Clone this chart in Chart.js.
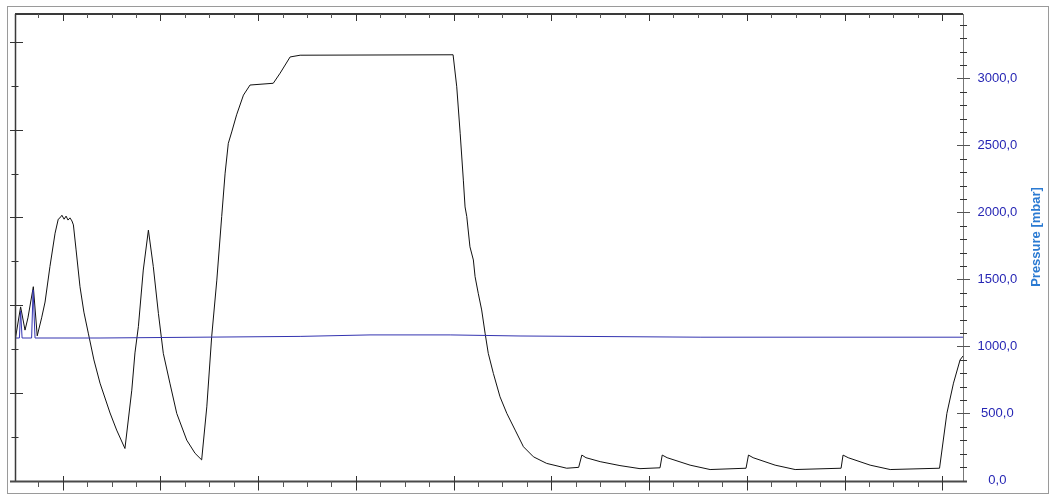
<!DOCTYPE html>
<html>
<head>
<meta charset="utf-8">
<script src="https://cdn.jsdelivr.net/npm/chart.js@4/dist/chart.umd.min.js"></script>
<style>
  html, body { margin: 0; padding: 0; background: #ffffff; }
  #wrap { width: 1057px; height: 499px; }
</style>
</head>
<body>
<div id="wrap"><canvas id="c" width="1057" height="499"></canvas></div>
<script>
// ---- Data (time in minor-tick units, black on left unlabeled axis, pressure in mbar) ----
const blackTime = [0.07,0.28,0.46,0.58,0.80,0.96,1.14,1.28,1.48,1.69,1.82,1.89,1.97,2.06,2.14,2.22,2.30,2.38,2.44,2.55,2.71,2.87,3.05,3.28,3.53,3.94,4.21,4.55,4.83,4.96,5.10,5.30,5.51,5.71,5.92,6.12,6.39,6.67,7.08,7.42,7.69,7.90,8.10,8.31,8.51,8.65,8.78,8.92,9.12,9.40,9.67,10.62,10.90,11.31,11.72,17.98,18.13,18.27,18.40,18.47,18.54,18.67,18.81,18.88,19.01,19.15,19.29,19.42,19.63,19.90,20.18,20.52,20.86,21.27,21.81,22.63,23.12,23.25,23.42,24.00,24.81,25.63,26.45,26.54,26.74,27.68,28.50,29.97,30.07,30.26,31.16,31.98,33.86,33.94,34.15,35.05,35.87,37.89,38.19,38.46,38.73,38.85];
const blackValue = [3.25,3.96,3.43,3.71,4.42,3.30,3.71,4.07,4.88,5.64,5.96,5.99,6.05,5.96,6.03,5.94,5.99,5.92,5.83,5.26,4.42,3.84,3.36,2.75,2.22,1.54,1.15,0.73,2.06,2.91,3.51,4.80,5.71,4.88,3.81,2.90,2.22,1.53,0.92,0.62,0.47,1.68,3.28,4.57,6.02,7.01,7.69,7.95,8.34,8.79,9.02,9.06,9.29,9.66,9.70,9.71,8.98,7.92,6.85,6.24,6.02,5.33,5.03,4.65,4.27,3.89,3.36,2.90,2.44,1.91,1.53,1.15,0.77,0.54,0.39,0.28,0.30,0.58,0.52,0.43,0.34,0.27,0.29,0.58,0.52,0.35,0.25,0.28,0.58,0.52,0.35,0.25,0.28,0.58,0.52,0.35,0.25,0.28,1.53,2.22,2.75,2.84];
const pressureTime = [0.07,0.23,0.28,0.34,0.73,0.79,0.87,3.53,11.72,14.58,17.86,20.72,28.09,38.85];
const pressureValue = [1063,1063,1265,1063,1063,1422,1063,1063,1075,1086,1086,1078,1069,1069];
const xTickValues = Array.from({length: 38}, (_, i) => i + 1);   // minor ticks, major when value % 4 == 2
const leftTickValues = [1,2,3,4,5,6,7,8,9,10];
const pressureLabelStep = 500;
const axisTitle = 'Pressure [mbar]';

const blackData = blackTime.map((t, i) => ({x: t, y: blackValue[i]}));
const pressureData = pressureTime.map((t, i) => ({x: t, y: pressureValue[i]}));

const FONT = 'Arial, "Liberation Sans", sans-serif';

const decor = {
  id: 'decor',
  beforeDraw(chart) {
    const ctx = chart.ctx;
    ctx.save();
    ctx.fillStyle = '#ffffff';
    ctx.fillRect(0, 0, chart.width, chart.height);
    ctx.restore();
  },
  afterDatasetsDraw(chart) {
    const {ctx, chartArea: a, scales} = chart;
    const L = Math.round(a.left), R = Math.round(a.right), T = Math.round(a.top), B = Math.round(a.bottom);
    ctx.save();
    // outer frame
    ctx.strokeStyle = '#9a9a9a';
    ctx.lineWidth = 1;
    ctx.strokeRect(7.5, 6.5, 1041, 487);

    const line = (x1, y1, x2, y2, w, c) => {
      ctx.beginPath(); ctx.lineWidth = w; ctx.strokeStyle = c;
      ctx.moveTo(x1, y1); ctx.lineTo(x2, y2); ctx.stroke();
    };
    // axis lines
    line(L, T, R, T, 2, '#3a3a3a');
    line(L + 0.5, T, L + 0.5, B + 1, 1.5, '#3a3a3a');
    line(R + 0.5, T, R + 0.5, B + 1, 1, '#777777');
    line(L - 5, B + 0.5, R + 4, B + 0.5, 2, '#4a4a4a');

    // x ticks (bottom & top)
    const xs = scales.x;
    xs.ticks.forEach(t => {
      const px = Math.round(xs.getPixelForValue(t.value)) + 0.5;
      const major = (t.value % 4) === 2;
      if (major) {
        line(px, B - 5, px, B + 9.5, 1, '#333333');
        line(px, T, px, T + 7, 1, '#333333');
      } else {
        line(px, B, px, B + 6, 1, '#555555');
        line(px, T, px, T + 4, 1, '#555555');
      }
    });
    // left ticks
    const yl = scales.yL;
    yl.ticks.forEach(t => {
      const py = Math.round(yl.getPixelForValue(t.value)) + 0.5;
      if (t.value % 2 === 0) line(L - 5, py, L + 8, py, 1, '#333333');
      else line(L - 3.5, py, L + 3.5, py, 1, '#333333');
    });
    // right ticks
    const yr = scales.yR;
    yr.ticks.forEach(t => {
      if (t.value <= 0) return;
      const py = Math.round(yr.getPixelForValue(t.value)) + 0.5;
      if (t.value % pressureLabelStep === 0) line(R - 6, py, R + 7, py, 1, '#555555');
      else line(R - 3, py, R + 4, py, 1, '#333333');
    });
    // right axis title (reads bottom to top)
    ctx.translate(1036, 237);
    ctx.rotate(-Math.PI / 2);
    ctx.font = 'bold 13px ' + FONT;
    ctx.fillStyle = '#2a7ad2';
    ctx.textAlign = 'center';
    ctx.textBaseline = 'middle';
    ctx.fillText(axisTitle, 0, 0);
    ctx.restore();
  }
};

const noPad = s => { s.paddingTop = 0; s.paddingBottom = 0; s.paddingLeft = 0; s.paddingRight = 0; };

new Chart(document.getElementById('c'), {
  type: 'line',
  data: {
    datasets: [
      {
        label: 'Pressure',
        data: pressureData,
        yAxisID: 'yR',
        borderColor: '#3434b0',
        borderWidth: 1,
        pointRadius: 0,
        tension: 0,
        fill: false
      },
      {
        label: 'Signal',
        data: blackData,
        yAxisID: 'yL',
        borderColor: '#111111',
        borderWidth: 1,
        pointRadius: 0,
        tension: 0,
        fill: false
      }
    ]
  },
  plugins: [decor],
  options: {
    responsive: false,
    animation: false,
    events: [],
    layout: { padding: { top: 14, left: 0, right: 0, bottom: 0 } },
    plugins: { legend: { display: false }, tooltip: { enabled: false } },
    scales: {
      x: {
        type: 'linear',
        position: 'bottom',
        min: 0.05,
        max: 38.85,
        grid: { display: false, drawTicks: false },
        border: { display: false },
        ticks: { display: false },
        afterBuildTicks: s => { s.ticks = xTickValues.map(v => ({value: v})); },
        afterFit: s => { s.height = 18.5; noPad(s); }
      },
      yL: {
        type: 'linear',
        position: 'left',
        min: 0,
        max: 10.64,
        grid: { display: false, drawTicks: false },
        border: { display: false },
        ticks: { display: false },
        afterBuildTicks: s => { s.ticks = leftTickValues.map(v => ({value: v})); },
        afterFit: s => { s.width = 15; noPad(s); }
      },
      yR: {
        type: 'linear',
        position: 'right',
        min: 0,
        max: 3480,
        grid: { display: false, drawTicks: false },
        border: { display: false },
        ticks: {
          stepSize: 100,
          includeBounds: false,
          autoSkip: false,
          padding: 14.5,
          crossAlign: 'center',
          color: '#2626b4',
          font: { family: FONT, size: 13 },
          callback: v => (v % pressureLabelStep === 0) ? v.toFixed(1).replace('.', ',') : ''
        },
        afterFit: s => { s.width = 94; noPad(s); }
      }
    }
  }
});
</script>
</body>
</html>
